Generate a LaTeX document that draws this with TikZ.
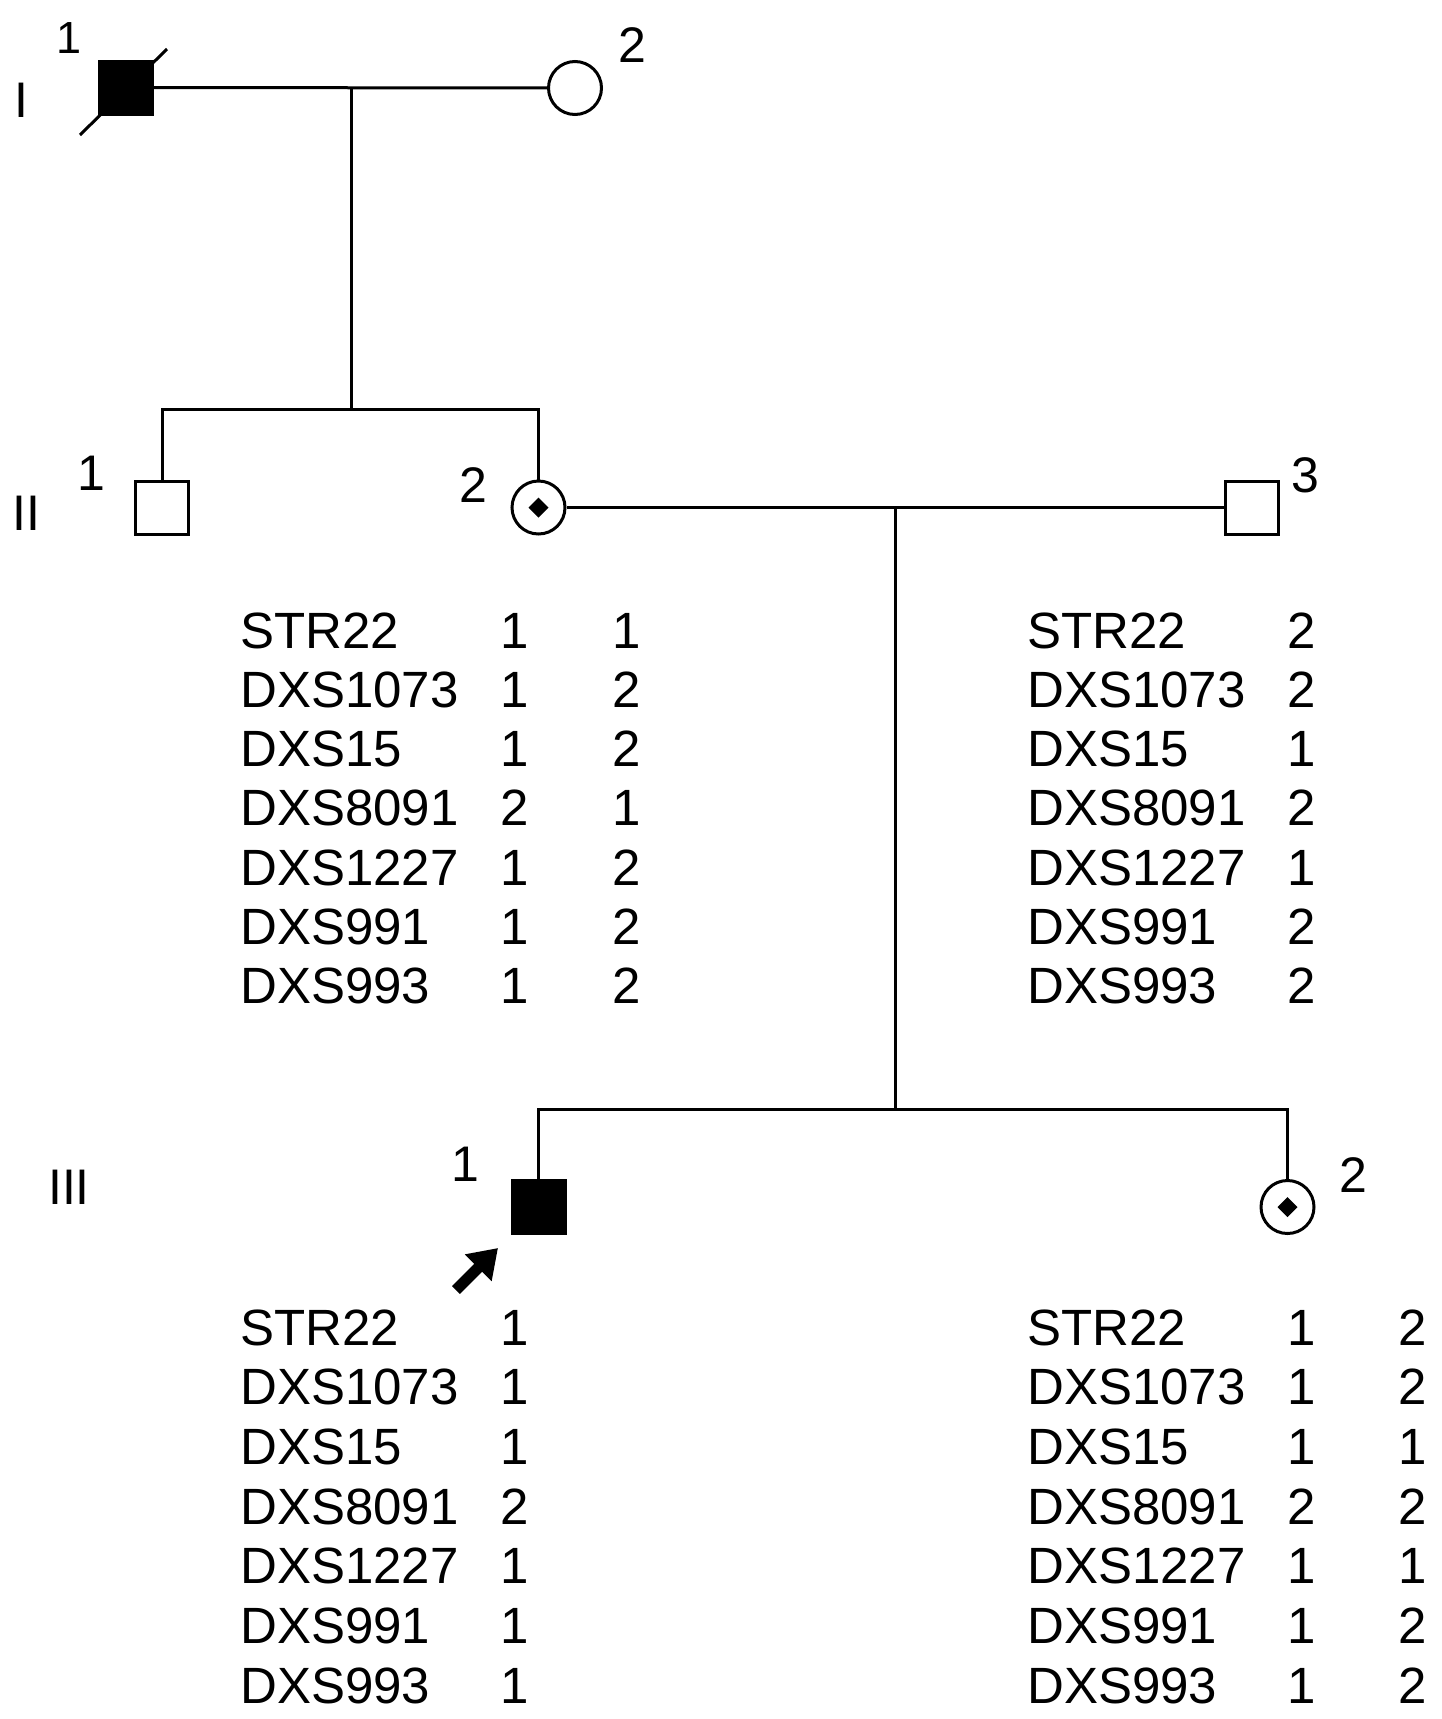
\documentclass[tikz,border=0pt]{standalone}
\usepackage{fontspec}
\setmainfont{Liberation Sans}
\usetikzlibrary{arrows.meta}
\tikzset{
  lw/.style={line width=3pt},
  male/.style={draw, lw, rectangle, minimum size=53pt, inner sep=0pt},
  female/.style={draw, lw, circle, minimum size=53pt, inner sep=0pt},
  affected/.style={fill=black},
  tabtxt/.style={font=\fontsize{51}{60}\selectfont, inner sep=0pt},
  lbl/.style={font=\fontsize{50}{60}\selectfont, inner sep=0pt, anchor=base},
  conn/.style={lw},
}
\newcommand{\carrierdot}[1]{\fill[shift={(#1)}] (-10,0) -- (0,10) -- (10,0) -- (0,-10) -- cycle;}
\begin{document}
\begin{tikzpicture}[x=1pt, y=-1pt]
\useasboundingbox (0,0) rectangle (1441,1719);
% generation labels
\node[lbl] (gI) at (21,117) {I};
\node[lbl] (gII) at (26,530) {II};
\node[lbl] (gIII) at (69,1204) {III};
% generation I
\node[male, affected] (I1) at (125.5,87.5) {};
\node[female] (I2) at (575,88) {};
\node[lbl, font=\fontsize{45}{54}\selectfont] (nI1) at (69,53) {1};
\node[lbl] (nI2) at (632,62) {2};
\coordinate (dA) at (80,135);
\coordinate (dB) at (167,49);
\draw[conn] (dA) -- (dB);
\draw[conn] (I1) -- (I2);
\coordinate (m1) at (351,88);
\coordinate (s1) at (351,409);
\draw[conn] (m1) -- (s1);
% generation II
\node[male] (II1) at (162,507.5) {};
\node[female] (II2) at (538.5,507.5) {};
\node[male] (II3) at (1251.5,507.5) {};
\carrierdot{II2}
\node[lbl] (nII1) at (91,490) {1};
\node[lbl] (nII2) at (473,502) {2};
\node[lbl] (nII3) at (1305,492) {3};
\draw[conn] (II1.north) -- (II1.north |- s1) -- (II2.north |- s1) -- (II2.north);
\draw[conn] (II2) -- (II3);
\coordinate (m2) at (895,507.5);
\coordinate (s2) at (895,1109);
\draw[conn] (m2) -- (s2);
% generation III
\node[male, affected] (III1) at (538.5,1207) {};
\node[female] (III2) at (1287.5,1207) {};
\carrierdot{III2}
\node[lbl] (nIII1) at (465,1181) {1};
\node[lbl] (nIII2) at (1353,1192) {2};
\draw[conn] (III1.north) -- (III1.north |- s2) -- (III2.north |- s2) -- (III2.north);
% proband arrow
\coordinate (pa) at (456,1290);
\coordinate (pb) at (498,1248);
\draw[line width=11pt, -{Triangle[length=28pt, width=36pt]}] (pa) -- (pb);
% haplotype tables
\foreach \nm [count=\i from 0] in {STR22,DXS1073,DXS15,DXS8091,DXS1227,DXS991,DXS993} {
  \node[tabtxt, anchor=base west] (tl\i) at (240,648.3+59.2*\i) {\nm};
  \node[tabtxt, anchor=base west] (tr\i) at (1027,648.3+59.2*\i) {\nm};
  \node[tabtxt, anchor=base west] (bl\i) at (240,1345+59.7*\i) {\nm};
  \node[tabtxt, anchor=base west] (br\i) at (1027,1345+59.7*\i) {\nm};
}
\foreach \a/\b [count=\i from 0] in {1/1,1/2,1/2,2/1,1/2,1/2,1/2} {
  \node[tabtxt, anchor=base] (tla\i) at (515,648.3+59.2*\i) {\a};
  \node[tabtxt, anchor=base] (tlb\i) at (627,648.3+59.2*\i) {\b};
}
\foreach \a [count=\i from 0] in {2,2,1,2,1,2,2} {
  \node[tabtxt, anchor=base] (tra\i) at (1302,648.3+59.2*\i) {\a};
}
\foreach \a [count=\i from 0] in {1,1,1,2,1,1,1} {
  \node[tabtxt, anchor=base] (bla\i) at (515,1345+59.7*\i) {\a};
}
\foreach \a/\b [count=\i from 0] in {1/2,1/2,1/1,2/2,1/1,1/2,1/2} {
  \node[tabtxt, anchor=base] (bra\i) at (1302,1345+59.7*\i) {\a};
  \node[tabtxt, anchor=base] (brb\i) at (1413,1345+59.7*\i) {\b};
}
\end{tikzpicture}
\end{document}
